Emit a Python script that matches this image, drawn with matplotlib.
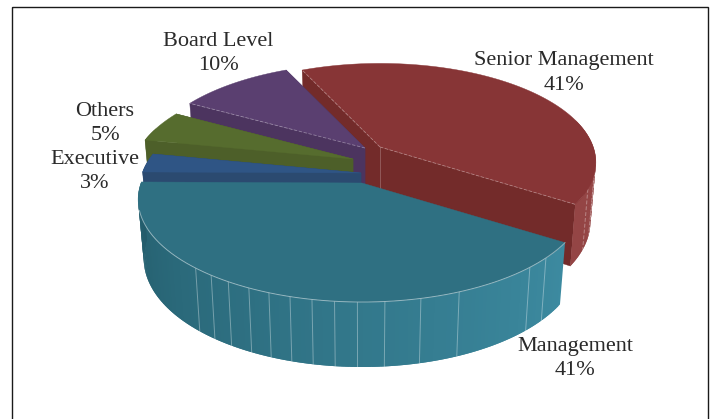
import numpy as np
import matplotlib
matplotlib.use("Agg")
import matplotlib.pyplot as plt
from matplotlib.colors import to_rgb
from matplotlib.patches import Polygon, Rectangle

# Data
labels = ["Management", "Executive", "Others", "Board Level", "Senior Management"]
values = [41, 3, 5, 10, 41]

# Styles, one per slice
top_colors = ["#2f7082", "#2f5585", "#566c2e", "#5a3f70", "#873536"]
cut_colors = ["#2b6373", "#2b4a70", "#4d5f29", "#4c345f", "#732b2a"]
wall_left = ["#235c6b", "#2b4a70", "#4d5f29", "#4c345f", "#8f4040"]
wall_right = ["#3d8ba1", "#2b4a70", "#4d5f29", "#4c345f", "#9a4a4a"]
apex_x = [362, 361, 353, 365, 380]
apex_y = [183, 173, 159, 148, 147]
radius = [1.0, 0.99, 0.99, 0.98, 0.965]

# Label layout: centre x, name y
label_x = [575, 95, 105, 218, 564]
label_y = [346, 159, 111, 41, 61]

start_angle = 33.0
AX, BY = 221.0, 100.0  # screen radius of the pie
PERSP = 0.16
DEPTH = 58.0
SHRINK = 0.975  # bottom face is a bit narrower
# side wall lines, in degrees round the pie
rib_angles = [131.5, 126.5, 121.5, 116, 111, 106, 101, 96, 91, 85, 77, 68, 48, 42]
red_ribs = [8, 16, 24]


def project(ox, oy, x, y, bottom=False):
    w = 1 - PERSP * y
    sx = AX * x / w
    sy = BY * y / w
    if bottom:
        sx = sx * SHRINK
        sy = sy + DEPTH * (1 + 0.12 * y)
    return ox + sx, oy + sy


def rim(ox, oy, r, t, bottom=False):
    t = np.radians(t)
    return project(ox, oy, r * np.cos(t), r * np.sin(t), bottom)


def mix(c1, c2, f):
    return tuple((1 - f) * a + f * b for a, b in zip(to_rgb(c1), to_rgb(c2)))


fig = plt.figure(figsize=(7.13, 4.19), dpi=100)
ax = fig.add_axes([0, 0, 1, 1])
ax.set_xlim(0, 713)
ax.set_ylim(419, 0)
ax.axis("off")

# outer frame runs off the bottom of the picture
ax.add_patch(Rectangle((11.5, 7.5), 696.5, 430, fill=False, edgecolor="#1a1a1a", linewidth=1.0))

angles = start_angle + np.cumsum([0] + values) * 3.6
z = 2  # paint order, back to front


def poly(pts, col, lw=0.0):
    global z
    z += 1
    ax.add_patch(Polygon(pts, facecolor=col, edgecolor=col, linewidth=lw, zorder=z))


def line(xs, ys, **kw):
    global z
    z += 1
    ax.plot(xs, ys, color="white", zorder=z, **kw)


# back slices first
for i in [4, 3, 2, 1, 0]:
    t0, t1 = angles[i], angles[i + 1]
    ox, oy, r = apex_x[i], apex_y[i], radius[i]
    ts = np.linspace(t0, t1, int(t1 - t0) + 2)
    bx, by = project(ox, oy, 0, 0, True)

    # faces of the cut, the front slice hides its own
    if i != 0:
        for t in [t1, t0]:
            xa, ya = rim(ox, oy, r, t)
            xb, yb = rim(ox, oy, r, t, True)
            poly([(ox, oy), (xa, ya), (xb, yb), (bx, by)], cut_colors[i], 0.3)

    # outer wall, in small shaded pieces that overlap so no seams show
    for k in range(len(ts) - 1):
        a, b = ts[k], ts[min(k + 2, len(ts) - 1)]
        if np.sin(np.radians(a)) < -0.3:
            continue
        f = np.clip((180 - a) / 150, 0, 1) if i == 0 else 0.5
        col = mix(wall_left[i], wall_right[i], f)
        xa, ya = rim(ox, oy, r, a)
        xb, yb = rim(ox, oy, r, b)
        xc, yc = rim(ox, oy, r, b, True)
        xd, yd = rim(ox, oy, r, a, True)
        poly([(xa, ya), (xb, yb), (xc, yc), (xd, yd)], col)

    # thin light lines on the walls
    if i == 0:
        for t in rib_angles:
            xa, ya = rim(ox, oy, r, t)
            xb, yb = rim(ox, oy, r, t, True)
            line([xa, xb], [ya, yb], alpha=0.35, linewidth=0.7)
    if i == 4:
        for t in red_ribs:
            xa, ya = rim(ox, oy, r, t)
            xb, yb = rim(ox, oy, r, t, True)
            line([xa, xb], [ya, yb], alpha=0.35, linewidth=0.7, linestyle=(0, (4, 2)))
        line([ox, ox], [oy, by], alpha=0.25, linewidth=0.6)

    # top face
    xs, ys = rim(ox, oy, r, ts)
    poly([(ox, oy)] + list(zip(xs, ys)), top_colors[i], 0.3)

    # light edges of the top face
    if i == 0:
        xa, ya = rim(ox, oy, r, ts[ts < 165])
        line(xa, ya, alpha=0.45, linewidth=0.7)
    if i in (3, 4):
        for t in ([t0] if i == 3 else [t0, t1]):
            xa, ya = rim(ox, oy, r, t)
            line([ox, xa], [oy, ya], alpha=0.35, linewidth=0.6, linestyle=(0, (4, 2)))

for name, v, x, y in zip(labels, values, label_x, label_y):
    ax.text(x, y, name, ha="center", va="center", fontsize=16, family="Liberation Serif", color="#2a2a2a", zorder=z + 1)
    ax.text(x, y + 24, f"{v}%", ha="center", va="center", fontsize=16, family="Liberation Serif", color="#2a2a2a", zorder=z + 1)

fig.savefig("out.png", dpi=100)
